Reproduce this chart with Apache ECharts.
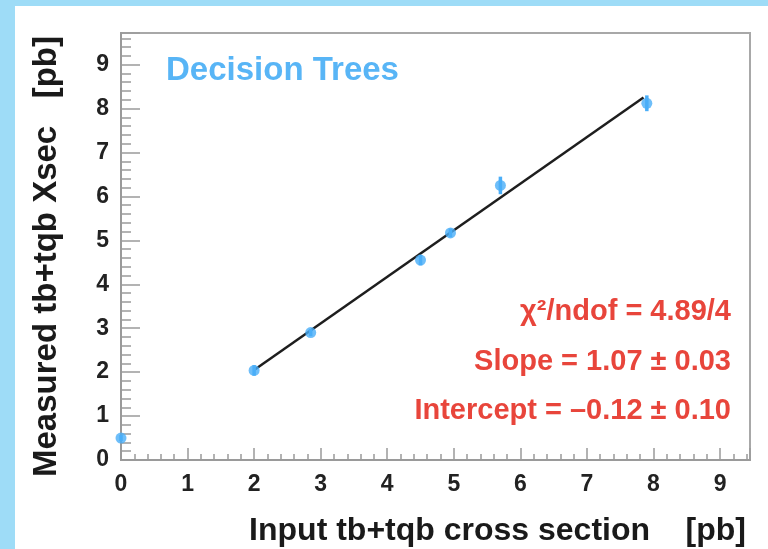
<!DOCTYPE html>
<html><head><meta charset="utf-8">
<script src="https://cdn.jsdelivr.net/npm/echarts@6/dist/echarts.min.js"></script>
<style>html,body{margin:0;padding:0;background:#fff;}#c{width:768px;height:549px;}</style>
</head><body><div id="c"></div>
<script>
// Data
const inputXsec    = [0, 2.0, 2.85, 4.5, 4.95, 5.7, 7.9];
const measuredXsec = [0.5, 2.04, 2.9, 4.55, 5.17, 6.25, 8.12];
const measuredErr  = [0.07, 0.12, 0.08, 0.12, 0.1, 0.2, 0.18];
const fitX = [2.0, 7.85];
const fitY = [2.05, 8.25];
const xTickLabels = ['0','1','2','3','4','5','6','7','8','9'];
const yTickLabels = ['0','1','2','3','4','5','6','7','8','9'];
const fitTexts = ['χ²/ndof = 4.89/4', 'Slope = 1.07 ± 0.03', 'Intercept = –0.12 ± 0.10'];

const FONT = '"Liberation Sans", Arial, Helvetica, sans-serif';
const PT = '#4aaef8';
const RED = '#e8453b';

const points = inputXsec.map((x, i) => [x, measuredXsec[i], measuredErr[i]]);
const fitLine = fitX.map((x, i) => [x, fitY[i]]);

const chart = echarts.init(document.getElementById('c'), null, {renderer: 'canvas'});
const axisCommon = {
  type: 'value',
  interval: 1,
  splitLine: {show: false},
  axisLine: {show: true, onZero: false, lineStyle: {color: '#9a9a9a', width: 2}},
  minorTick: {show: true, splitNumber: 5, lineStyle: {color: '#9a9a9a', width: 1.5}},
  minorSplitLine: {show: false},
  axisLabel: {color: '#222', fontFamily: FONT, fontWeight: 'bold', fontSize: 23}
};
chart.setOption({
  animation: false,
  backgroundColor: '#fff',
  grid: {left: 121, top: 33, right: 18, bottom: 89, show: true, borderColor: '#a8a8a8', borderWidth: 2, backgroundColor: 'transparent'},
  xAxis: Object.assign({}, axisCommon, {
    min: 0, max: 9.45,
    axisTick: {show: true, inside: true, length: 12, lineStyle: {color: '#9a9a9a', width: 1.5}},
    minorTick: {show: true, splitNumber: 5, length: 6, lineStyle: {color: '#9a9a9a', width: 1.5}},
    axisLabel: Object.assign({}, axisCommon.axisLabel, {margin: 13,
      formatter: v => (Number.isInteger(v) && xTickLabels[v] !== undefined) ? xTickLabels[v] : ''})
  }),
  yAxis: Object.assign({}, axisCommon, {
    min: 0, max: 9.72,
    axisTick: {show: true, inside: true, length: 19, lineStyle: {color: '#9a9a9a', width: 1.5}},
    minorTick: {show: true, splitNumber: 5, length: 10, lineStyle: {color: '#9a9a9a', width: 1.5}},
    axisLabel: Object.assign({}, axisCommon.axisLabel, {margin: 12,
      formatter: v => (Number.isInteger(v) && yTickLabels[v] !== undefined) ? yTickLabels[v] : ''})
  }),
  series: [
    {type: 'line', data: fitLine, symbol: 'none', z: 2,
     lineStyle: {color: '#1e1e1e', width: 2.5}},
    {type: 'custom', z: 3, data: points,
     renderItem: (params, api) => {
       const x = api.value(0), y = api.value(1), e = api.value(2);
       const p1 = api.coord([x, y - e]), p2 = api.coord([x, y + e]);
       return {type: 'line', shape: {x1: p1[0], y1: p1[1], x2: p2[0], y2: p2[1]},
               style: {stroke: PT, lineWidth: 3.5}};
     }},
    {type: 'scatter', z: 4, data: points.map(p => [p[0], p[1]]), symbol: 'circle', symbolSize: 11,
     clip: false, itemStyle: {color: PT}}
  ],
  graphic: [
    {type: 'rect', z: 100, shape: {x: 0, y: 0, width: 15, height: 549}, style: {fill: '#9edcf7'}},
    {type: 'rect', z: 100, shape: {x: 0, y: 0, width: 768, height: 6}, style: {fill: '#9edcf7'}},
    {type: 'text', x: 166, y: 71, style: {text: 'Decision Trees', fill: '#58b5f6', font: 'bold 33px ' + FONT, textVerticalAlign: 'middle', textAlign: 'left'}},
    {type: 'text', x: 731, y: 312, style: {text: fitTexts[0], fill: RED, font: 'bold 29px ' + FONT, textAlign: 'right', textVerticalAlign: 'middle'}},
    {type: 'text', x: 731, y: 362, style: {text: fitTexts[1], fill: RED, font: 'bold 29px ' + FONT, textAlign: 'right', textVerticalAlign: 'middle'}},
    {type: 'text', x: 731, y: 411, style: {text: fitTexts[2], fill: RED, font: 'bold 29px ' + FONT, textAlign: 'right', textVerticalAlign: 'middle'}},
    {type: 'text', x: 746, y: 531, style: {text: 'Input tb+tqb cross section    [pb]', fill: '#1a1a1a', font: 'bold 32px ' + FONT, textAlign: 'right', textVerticalAlign: 'middle'}},
    {type: 'text', x: 47, y: 36, rotation: Math.PI / 2, style: {text: 'Measured tb+tqb Xsec   [pb]', fill: '#1a1a1a', font: 'bold 33px ' + FONT, textAlign: 'right', textVerticalAlign: 'middle'}}
  ]
});
</script></body></html>
